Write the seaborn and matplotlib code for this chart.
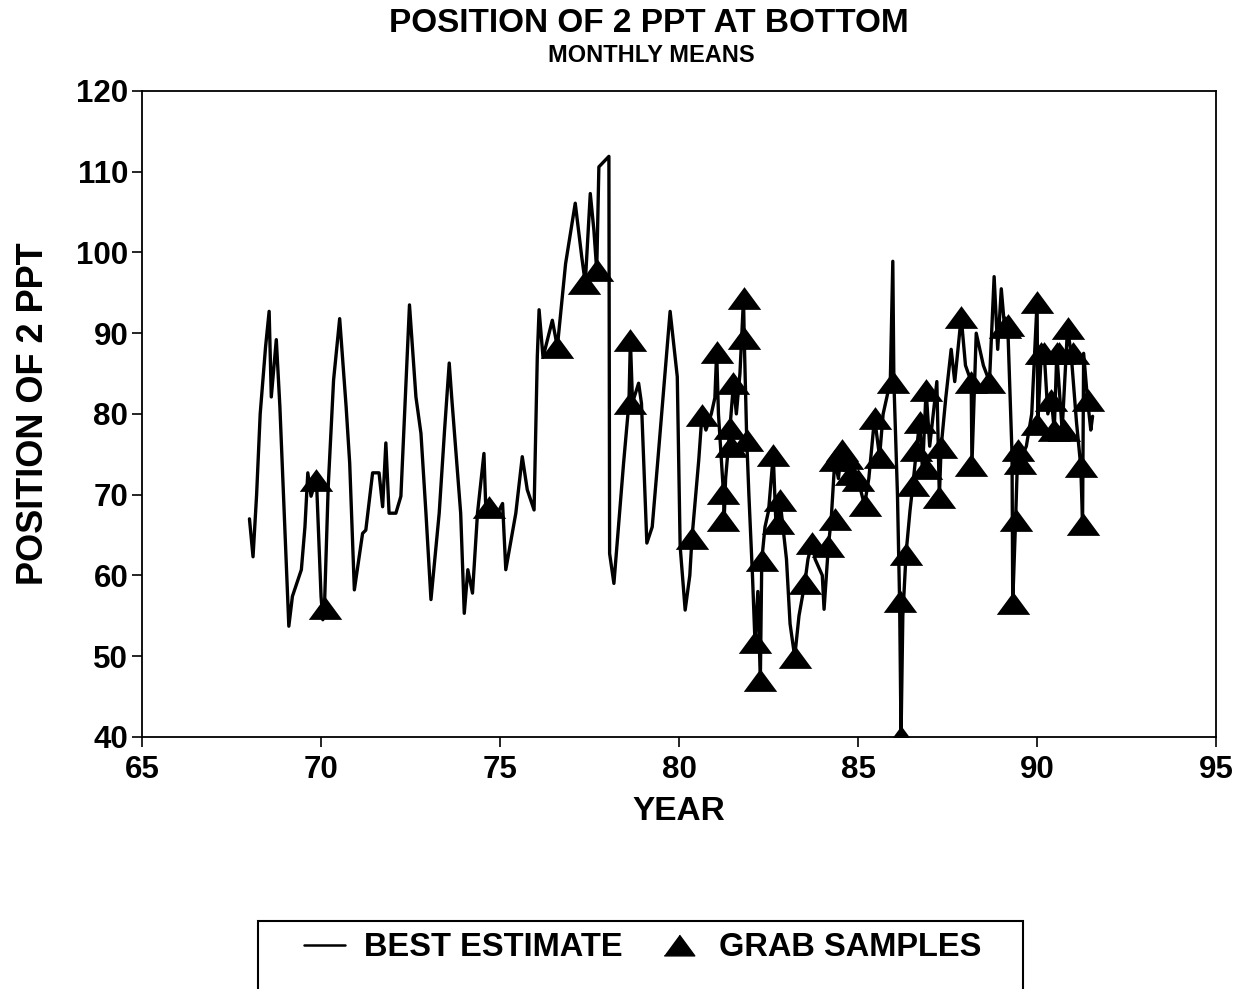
import numpy as np
import pandas as pd
import matplotlib
matplotlib.use("Agg")
import matplotlib.pyplot as plt
import seaborn as sns
from matplotlib.patches import Rectangle
from matplotlib.lines import Line2D

# ---- data ----
best_year = [68.0, 68.1, 68.2, 68.3, 68.45, 68.55, 68.61, 68.75, 68.85, 69.1, 69.2, 69.45, 69.55,
             69.63, 69.72, 69.87, 70.0, 70.05, 70.1, 70.2, 70.35, 70.52, 70.7, 70.8, 70.93, 71.16,
             71.25, 71.44, 71.62, 71.72, 71.81, 71.9, 72.09, 72.23, 72.47, 72.65, 72.79, 72.93,
             73.07, 73.3, 73.45, 73.58, 73.65, 73.9, 74.0, 74.1, 74.23, 74.37, 74.55, 74.6, 74.93,
             75.07, 75.16, 75.44, 75.62, 75.76, 75.95, 76.04, 76.09, 76.2, 76.46, 76.6, 76.83, 77.1,
             77.28, 77.38, 77.52, 77.62, 77.7, 77.76, 78.04, 78.06, 78.18, 78.45, 78.6, 78.64, 78.7,
             78.87, 78.95, 79.1, 79.25, 79.4, 79.75, 79.95, 80.03, 80.17, 80.3, 80.36, 80.55, 80.64,
             80.75, 80.9, 81.0, 81.05, 81.1, 81.24, 81.26, 81.3, 81.42, 81.52, 81.6, 81.7, 81.8,
             81.82, 81.89, 81.95, 82.05, 82.12, 82.2, 82.27, 82.31, 82.4, 82.5, 82.63, 82.7, 82.76,
             82.82, 82.9, 83.0, 83.1, 83.23, 83.35, 83.51, 83.6, 83.71, 83.8, 84.0, 84.05, 84.17,
             84.25, 84.35, 84.45, 84.54, 84.6, 84.7, 84.8, 85.0, 85.18, 85.3, 85.46, 85.6, 85.7,
             85.9, 85.97, 86.0, 86.1, 86.16, 86.2, 86.25, 86.34, 86.45, 86.53, 86.63, 86.72, 86.8,
             86.9, 87.0, 87.1, 87.2, 87.27, 87.32, 87.45, 87.6, 87.7, 87.88, 88.0, 88.16, 88.18,
             88.3, 88.5, 88.67, 88.8, 88.9, 89.0, 89.09, 89.18, 89.3, 89.32, 89.4, 89.46, 89.5,
             89.7, 89.85, 90.0, 90.02, 90.1, 90.2, 90.3, 90.4, 90.48, 90.55, 90.7, 90.85, 90.95,
             91.1, 91.22, 91.27, 91.3, 91.41, 91.5, 91.55]
best_value = [67.0, 62.3, 70.0, 80.0, 88.3, 92.7, 82.1, 89.2, 80.9, 53.7, 57.4, 60.7, 66.0,
              72.7, 69.8, 72.0, 57.4, 54.5, 56.8, 71.0, 84.2, 91.8, 80.9, 73.9, 58.2, 65.2,
              65.6, 72.7, 72.7, 68.5, 76.4, 67.7, 67.7, 69.8, 93.5, 82.1, 77.6, 67.7,
              57.0, 67.7, 78.0, 86.3, 82.0, 67.7, 55.3, 60.7, 57.8, 67.7, 75.1, 68.5, 67.7,
              68.9, 60.7, 67.7, 74.7, 70.6, 68.1, 87.1, 92.9, 87.0, 91.6, 88.3, 98.6, 106.1,
              99.5, 96.2, 107.3, 102.8, 97.8, 110.6, 111.9, 62.7, 59.0, 73.9, 81.4, 89.2, 81.4,
              83.8, 81.3, 64.0, 66.0, 73.9, 92.7, 84.6, 63.6, 55.7, 60.0, 64.6, 74.3, 79.9,
              78.0, 80.0, 82.0, 87.7, 80.0, 70.2, 66.9, 72.0, 78.2, 83.8, 80.0, 85.0, 94.3,
              89.4, 76.8, 70.0, 60.0, 51.8, 58.0, 47.0, 61.9, 66.0, 68.0, 74.9, 67.0, 66.5,
              69.3, 66.0, 62.0, 54.0, 49.9, 55.0, 59.0, 62.0, 64.0, 62.0, 60.0, 55.8, 63.6,
              67.0, 74.3, 72.0, 75.5, 73.0, 74.5, 72.0, 71.8, 68.7, 72.0, 79.5, 74.7, 80.0,
              84.0, 98.9, 84.0, 70.0, 56.8, 40.0, 55.0, 62.7, 68.0, 71.2, 75.5, 79.0, 73.0,
              83.0, 76.0, 80.0, 84.0, 69.7, 75.9, 82.0, 88.0, 84.0, 92.0, 86.0, 84.0, 73.7,
              90.0, 86.0, 84.0, 97.0, 88.0, 95.5, 90.8, 91.0, 75.0, 56.6, 66.9, 75.5, 73.9,
              76.0, 80.0, 93.9, 78.8, 86.0, 87.5, 80.0, 81.7, 78.0, 87.5, 78.0, 90.6, 87.5,
              79.0, 73.5, 66.4, 87.5, 81.7, 78.0, 79.7]

grab_year = [69.87, 70.1, 74.7, 76.6, 77.34, 77.71, 78.64, 78.64, 80.36, 80.64, 81.05, 81.24,
             81.24, 81.42, 81.44, 81.52, 81.8, 81.8, 81.89, 82.12, 82.27, 82.31, 82.63, 82.76,
             82.82, 83.23, 83.51, 83.71, 84.17, 84.35, 84.35, 84.54, 84.7, 84.8, 85.0, 85.18,
             85.46, 85.6, 85.98, 86.16, 86.2, 86.34, 86.53, 86.63, 86.72, 86.9, 86.9, 87.27,
             87.32, 87.88, 88.16, 88.16, 88.67, 89.09, 89.18, 89.32, 89.4, 89.46, 89.52, 90.01,
             90.0, 90.1, 90.2, 90.4, 90.48, 90.55, 90.6, 90.75, 90.85, 91.0, 91.22, 91.27, 91.41]
grab_value = [71.8, 56.0, 68.5, 88.3, 96.2, 97.8, 89.2, 81.4, 64.6, 79.9, 87.7, 70.2,
              66.9, 78.2, 76.0, 83.8, 94.3, 89.4, 76.8, 51.8, 47.0, 61.9, 74.9, 66.5,
              69.3, 49.9, 59.0, 64.0, 63.6, 74.3, 67.0, 75.5, 74.5, 72.5, 71.8, 68.7,
              79.5, 74.7, 84.0, 56.8, 40.0, 62.7, 71.2, 75.5, 79.0, 83.0, 73.3, 69.7,
              75.9, 92.0, 84.0, 73.7, 84.0, 90.8, 91.0, 56.6, 66.9, 75.5, 73.9, 93.9,
              78.8, 87.5, 87.5, 81.7, 78.0, 87.5, 87.5, 78.0, 90.6, 87.5, 73.5, 66.4, 81.7]

x_ticks = [65, 70, 75, 80, 85, 90, 95]
y_ticks = [40, 50, 60, 70, 80, 90, 100, 110, 120]

line_df = pd.DataFrame({"year": best_year, "value": best_value})
grab_df = pd.DataFrame({"year": grab_year, "value": grab_value})

sns.set_style("ticks")
plt.rcParams["font.family"] = ["Liberation Sans", "DejaVu Sans"]
plt.rcParams["font.weight"] = "bold"
plt.rcParams["text.color"] = "black"
plt.rcParams["axes.labelcolor"] = "black"
plt.rcParams["xtick.color"] = "black"
plt.rcParams["ytick.color"] = "black"

fig = plt.figure(figsize=(12.46, 9.89), dpi=100)
ax = fig.add_axes([0.114, 0.255, 0.862, 0.653])

tri = [(-1.0, -0.68), (1.0, -0.68), (0.0, 0.68)]

sns.lineplot(data=line_df, x="year", y="value", ax=ax, sort=False, estimator=None,
             color="black", linewidth=2.4, legend=False)
sns.scatterplot(data=grab_df, x="year", y="value", ax=ax, marker=tri, s=580,
                color="black", edgecolor="black", linewidth=0, legend=False, zorder=3)

ax.set_xlim(65, 95)
ax.set_ylim(40, 120)
ax.set_xticks(x_ticks)
ax.set_yticks(y_ticks)
ax.tick_params(direction="out", length=7, width=1.2, labelsize=22.5, colors="black")
ax.tick_params(axis="x", pad=6)
ax.tick_params(axis="y", pad=3)
for lab in ax.get_xticklabels() + ax.get_yticklabels():
    lab.set_fontweight("bold")
for sp in ax.spines.values():
    sp.set_visible(True)
    sp.set_linewidth(1.3)
    sp.set_color("black")

ax.set_xlabel("YEAR", fontsize=24, fontweight="bold", labelpad=8)
ax.set_ylabel("POSITION OF 2 PPT", fontsize=26, fontweight="bold", labelpad=18)

fig.text(0.521, 1 - 24 / 989, "POSITION OF 2 PPT AT BOTTOM", ha="center", va="center",
         fontsize=24, fontweight="bold")
fig.text(0.523, 1 - 55 / 989, "MONTHLY MEANS", ha="center", va="center",
         fontsize=17, fontweight="bold")

# legend
box = Rectangle((258 / 1246, -0.05), (1023 - 258) / 1246, 0.05 + (989 - 921) / 989,
                transform=fig.transFigure, fill=False, edgecolor="black", linewidth=1.5)
fig.add_artist(box)
handles = [Line2D([], [], color="black", linewidth=1.8),
           Line2D([], [], color="black", marker=tri, markersize=22, linestyle="none")]
fig.legend(handles, ["BEST ESTIMATE", "GRAB SAMPLES"], loc="center",
           bbox_to_anchor=(0.516, 1 - 948 / 989), ncol=2, frameon=False,
           prop={"size": 23.5, "weight": "bold"}, handlelength=1.25, columnspacing=1.1,
           handletextpad=0.6)

fig.savefig("out.png", dpi=100)
